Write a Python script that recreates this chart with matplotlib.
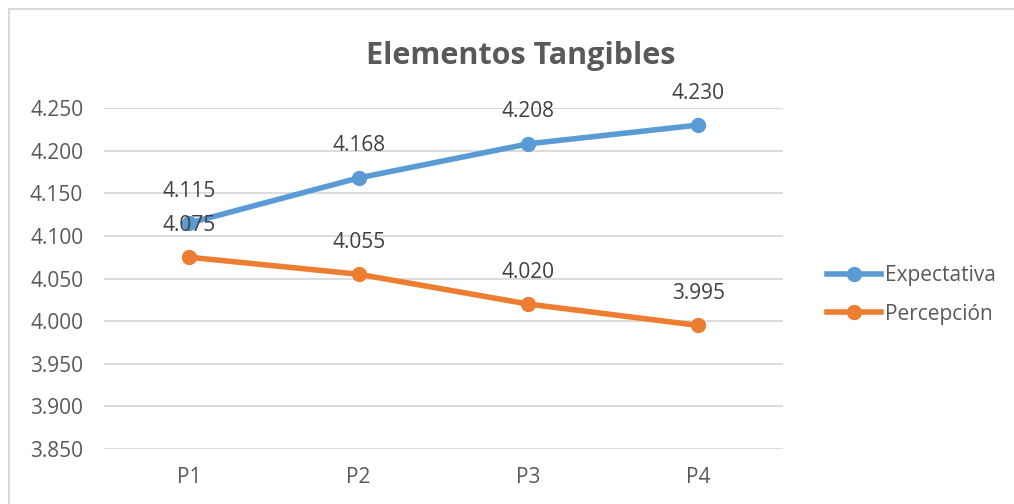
import matplotlib
matplotlib.use("Agg")
import matplotlib.pyplot as plt
from matplotlib.lines import Line2D

categories = ["P1", "P2", "P3", "P4"]
expectativa = [4.115, 4.168, 4.208, 4.230]
percepcion = [4.075, 4.055, 4.020, 3.995]
y_ticks = [3.850, 3.900, 3.950, 4.000, 4.050, 4.100, 4.150, 4.200, 4.250]
title = "Elementos Tangibles"

BLUE = "#5B9BD5"
ORANGE = "#ED7D31"
TEXT = "#595959"
GRID = "#D9D9D9"

plt.rcParams["font.family"] = ["Open Sans", "DejaVu Sans"]

fig = plt.figure(figsize=(10.14, 5.04), dpi=100)
ax = fig.add_axes([0.1026, 0.1091, 0.6696, 0.6766])

x = list(range(len(categories)))
ax.plot(x, expectativa, color=BLUE, lw=4, marker="o", ms=10,
        solid_capstyle="round", label="Expectativa", zorder=3)
ax.plot(x, percepcion, color=ORANGE, lw=4, marker="o", ms=10,
        solid_capstyle="round", label="Percepción", zorder=3)

for series in (expectativa, percepcion):
    for xi, v in zip(x, series):
        ax.annotate(f"{v:.3f}", (xi, v), xytext=(0, 23), textcoords="offset points",
                    ha="center", va="center", fontsize=15, color="#404040",
                    annotation_clip=False, zorder=4)

ax.set_xlim(-0.5, len(categories) - 0.5)
ax.set_ylim(y_ticks[0], y_ticks[-1])
ax.set_yticks(y_ticks)
ax.set_yticklabels([f"{t:.3f}" for t in y_ticks])
ax.set_xticks(x)
ax.set_xticklabels(categories)
ax.tick_params(axis="both", length=0, labelsize=15, colors=TEXT)
ax.tick_params(axis="y", pad=15)
ax.tick_params(axis="x", pad=13)
ax.grid(axis="y", color=GRID, lw=1.3)
ax.set_axisbelow(True)
for s in ax.spines.values():
    s.set_visible(False)

fig.text(0.5138, 0.888, title, ha="center", va="center", fontsize=22,
         fontweight="bold", color=TEXT, family=["Open Sans", "DejaVu Sans"])

handles = [
    Line2D([], [], color=BLUE, lw=4, marker="o", ms=10),
    Line2D([], [], color=ORANGE, lw=4, marker="o", ms=10),
]
fig.legend(handles, ["Expectativa", "Percepción"], loc="center left",
           bbox_to_anchor=(0.797, 0.415), frameon=False, fontsize=15,
           labelcolor=TEXT, handlelength=2.6, handletextpad=0.2,
           labelspacing=0.85)

# outer chart frame
fig.add_artist(Line2D([0.0089, 0.0089], [0.0, 0.982], transform=fig.transFigure,
                      color="#D9D9D9", lw=1.5))
fig.add_artist(Line2D([0.0089, 1.0], [0.982, 0.982], transform=fig.transFigure,
                      color="#D9D9D9", lw=1.5))

fig.savefig("out.png", dpi=100, facecolor="white")
